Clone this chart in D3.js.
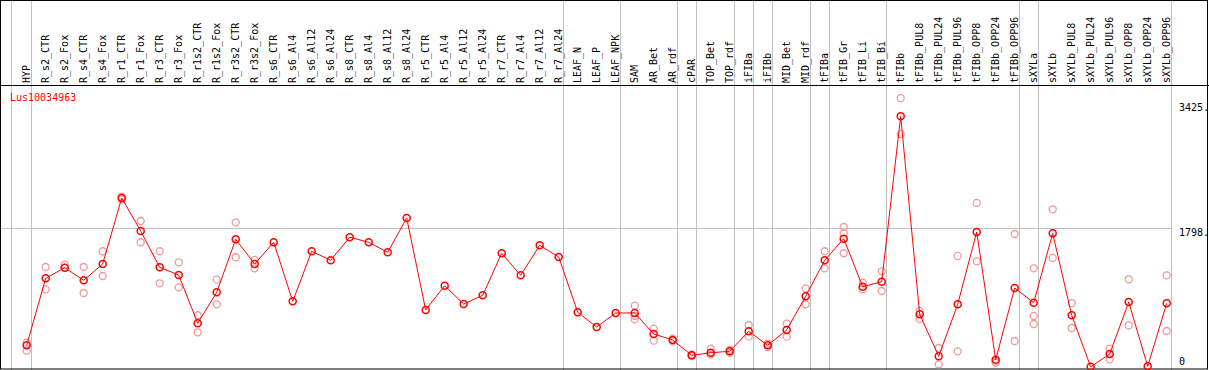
<!DOCTYPE html>
<html>
<head>
<meta charset="utf-8">
<script src="https://cdn.jsdelivr.net/npm/d3@7"></script>
<style>
  body { margin: 0; background: #fff; }
  text { font-family: "DejaVu Sans Mono", monospace; font-size: 10px; }
</style>
</head>
<body>
<div id="chart"></div>
<script>
// sample names along the top
var samples = ["HYP", "R_s2_CTR", "R_s2_Fox", "R_s4_CTR", "R_s4_Fox", "R_r1_CTR", "R_r1_Fox",
  "R_r3_CTR", "R_r3_Fox", "R_r1s2_CTR", "R_r1s2_Fox", "R_r3s2_CTR", "R_r3s2_Fox", "R_s6_CTR",
  "R_s6_Al4", "R_s6_Al12", "R_s6_Al24", "R_s8_CTR", "R_s8_Al4", "R_s8_Al12", "R_s8_Al24",
  "R_r5_CTR", "R_r5_Al4", "R_r5_Al12", "R_r5_Al24", "R_r7_CTR", "R_r7_Al4", "R_r7_Al12", "R_r7_Al24",
  "LEAF_N", "LEAF_P", "LEAF_NPK", "SAM", "AR_Bet", "AR_rdf", "cPAR", "TOP_Bet", "TOP_rdf",
  "iFIBa", "iFIBb", "MID_Bet", "MID_rdf", "tFIBa", "tFIB_Gr", "tFIB_Li", "tFIB_Bi", "tFIBb",
  "tFIBb_PUL8", "tFIBb_PUL24", "tFIBb_PUL96", "tFIBb_OPP8", "tFIBb_OPP24", "tFIBb_OPP96",
  "sXYLa", "sXYLb", "sXYLb_PUL8", "sXYLb_PUL24", "sXYLb_PUL96", "sXYLb_OPP8", "sXYLb_OPP24", "sXYLb_OPP96"];

// mean expression per sample
var means = [279, 1149, 1287, 1123, 1335, 2192, 1763, 1292, 1192, 565, 967, 1655, 1335, 1617,
  850, 1500, 1383, 1682, 1617, 1487, 1932, 738, 1053, 815, 928, 1474, 1188, 1578, 1426,
  708, 517, 699, 699, 426, 348, 149, 183, 201, 461, 279, 478, 915, 1383, 1664, 1040, 1105, 3253,
  682, 136, 811, 1750, 92, 1023, 832, 1733, 669, 0, 166, 841, 6, 824];

// replicate values per sample
var replicates = [[313, 209], [1296, 1006], [1326, 1287], [1296, 958], [1500, 1179], [2209, 2170],
  [1893, 1617], [1500, 1084], [1357, 1032], [669, 448], [1131, 811], [1876, 1422], [1387, 1279],
  [], [], [], [], [], [], [], [], [], [], [], [], [], [], [], [], [], [], [],
  [793, 617, 660], [495, 339], [365, 330], [140, 160], [235, 160], [220, 180], [543, 391],
  [300, 255], [560, 391], [1019, 811], [1500, 1279], [1815, 1733, 1474], [1092, 1006],
  [1240, 984], [3487, 3023], [725, 621], [244, 32], [1439, 201], [2127, 1370], [70, 53],
  [1724, 335], [1279, 660, 556], [2045, 1413], [828, 504], [], [235, 97], [1136, 539], [],
  [1188, 465]];

// group separators drawn after these samples
var groupEnds = ["HYP", "R_r7_Al24", "LEAF_NPK", "AR_rdf", "cPAR", "TOP_rdf", "iFIBa", "iFIBb",
  "MID_rdf", "tFIBa", "tFIB_Bi", "tFIBb_OPP96", "sXYLa", "sXYLb_OPP96"];

var yTicks = [0, 1798, 3425];
var geneName = "Lus10034963";

var svgWidth = 1209, svgHeight = 370;
var headerBottom = 85;

var svg = d3.select("#chart").append("svg")
  .attr("width", svgWidth)
  .attr("height", svgHeight);

var x = d3.scalePoint()
  .domain(samples)
  .range([26.7, 1166.7]);

var y = d3.scaleLinear()
  .domain([0, 3425])
  .range([366.8, 103]);

// vertical separators
var sepX = [x(samples[0]) - 16].concat(groupEnds.map(s => x(s) + 4));
svg.selectAll("line.sep")
  .data(sepX)
  .enter().append("line")
  .attr("class", "sep")
  .attr("x1", d => Math.round(d) + 0.5)
  .attr("x2", d => Math.round(d) + 0.5)
  .attr("y1", 0)
  .attr("y2", svgHeight)
  .attr("stroke", "#c0c0c0")
  .attr("stroke-width", 1);

// horizontal reference line
svg.append("line")
  .attr("x1", 0)
  .attr("x2", 1171)
  .attr("y1", Math.round(y(1798)) + 0.5)
  .attr("y2", Math.round(y(1798)) + 0.5)
  .attr("stroke", "#c0c0c0");

// sample labels
svg.selectAll("text.sample")
  .data(samples)
  .enter().append("text")
  .attr("class", "sample")
  .attr("transform", d => `translate(${x(d) + 3}, 83) rotate(-90)`)
  .attr("fill", "#000")
  .text(d => d);

// header separator and frame
svg.append("line")
  .attr("x1", 0).attr("x2", svgWidth)
  .attr("y1", headerBottom + 0.5).attr("y2", headerBottom + 0.5)
  .attr("stroke", "#000");

svg.append("rect")
  .attr("x", 0.5).attr("y", 0.5)
  .attr("width", 1207).attr("height", 368.5)
  .attr("fill", "none")
  .attr("stroke", "#000");

// y labels on the right
svg.selectAll("text.ytick")
  .data(yTicks)
  .enter().append("text")
  .attr("class", "ytick")
  .attr("x", 1179)
  .attr("y", d => d === 0 ? 365 : y(d) + 8)
  .attr("fill", "#000")
  .text(d => d === 0 ? "0" : d + ".");

// gene name
svg.append("text")
  .attr("x", 10)
  .attr("y", 101)
  .attr("fill", "#ff0000")
  .text(geneName);

// replicate points
var repPoints = [];
replicates.forEach(function(vals, i) {
  vals.forEach(function(v) { repPoints.push({ s: samples[i], v: v }); });
});

svg.selectAll("circle.rep")
  .data(repPoints)
  .enter().append("circle")
  .attr("class", "rep")
  .attr("cx", d => x(d.s))
  .attr("cy", d => y(d.v))
  .attr("r", 3.5)
  .attr("fill", "none")
  .attr("stroke", "#ee9a9a")
  .attr("stroke-width", 1.3);

// mean line
var line = d3.line()
  .x((d, i) => x(samples[i]))
  .y(d => y(d));

svg.append("path")
  .datum(means)
  .attr("d", line)
  .attr("fill", "none")
  .attr("stroke", "#ff0000")
  .attr("stroke-width", 1);

svg.selectAll("circle.mean")
  .data(means)
  .enter().append("circle")
  .attr("class", "mean")
  .attr("cx", (d, i) => x(samples[i]))
  .attr("cy", d => y(d))
  .attr("r", 3.5)
  .attr("fill", "none")
  .attr("stroke", "#ff0000")
  .attr("stroke-width", 1.5);
</script>
</body>
</html>
